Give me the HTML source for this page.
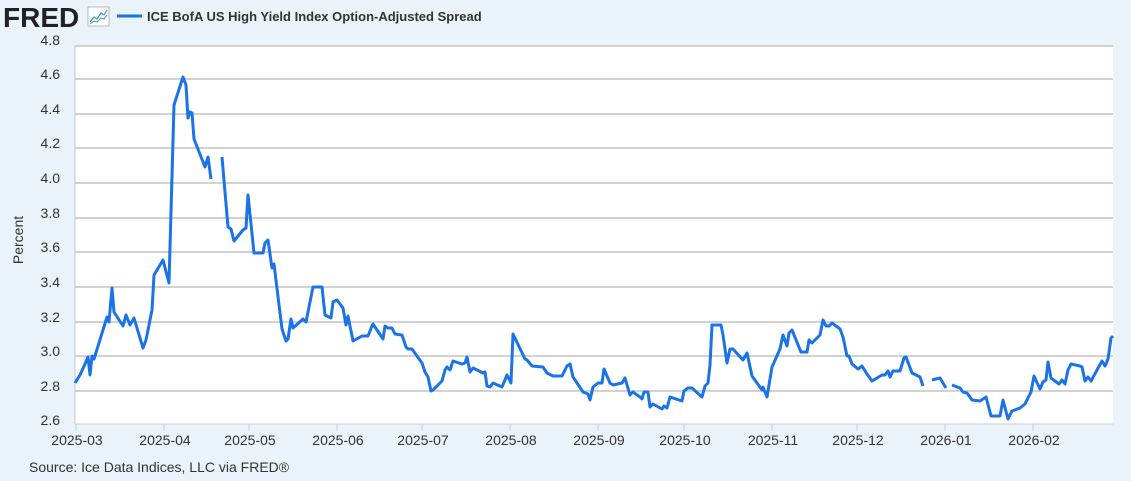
<!DOCTYPE html>
<html><head><meta charset="utf-8"><style>
body{margin:0;background:#eaf2fa;}
svg{display:block;font-family:"Liberation Sans",Arial,sans-serif;}
</style></head><body>
<svg width="1131" height="481" xmlns="http://www.w3.org/2000/svg">
<rect width="1131" height="481" fill="#eaf2fa"/>
<text x="3" y="27" font-size="28" font-weight="bold" fill="#222">FRED</text>
<rect x="88" y="7" width="21" height="19" fill="#fff" stroke="#aaa" stroke-width="0.8"/>
<polyline points="90,22 94,17 97,19 101,13 104,15 107,10" fill="none" stroke="#4a90d9" stroke-width="1.2"/>
<polyline points="90,24 94,21 97,22 101,18 104,19 107,15" fill="none" stroke="#5bb08a" stroke-width="1.2"/>
<line x1="117" y1="16" x2="142" y2="16" stroke="#1a73e8" stroke-width="3"/>
<text x="147" y="21" font-size="13" font-weight="bold" fill="#333">ICE BofA US High Yield Index Option-Adjusted Spread</text>
<rect x="75" y="46" width="1038" height="378" fill="#fff"/>
<g stroke="#c4c4c4" stroke-width="1.5">
<line x1="75" y1="79" x2="1113" y2="79"/><line x1="75" y1="114" x2="1113" y2="114"/>
<line x1="75" y1="148" x2="1113" y2="148"/><line x1="75" y1="183" x2="1113" y2="183"/>
<line x1="75" y1="218" x2="1113" y2="218"/><line x1="75" y1="252" x2="1113" y2="252"/>
<line x1="75" y1="287" x2="1113" y2="287"/><line x1="75" y1="322" x2="1113" y2="322"/>
<line x1="75" y1="356" x2="1113" y2="356"/><line x1="75" y1="391" x2="1113" y2="391"/>
<line x1="75" y1="46" x2="1113" y2="46"/>
</g>
<line x1="75" y1="46" x2="75" y2="424" stroke="#c4c4c4"/>
<line x1="75" y1="424" x2="1113" y2="424" stroke="#c4d0e0"/>
<g stroke="#c4d0e0">
<line x1="76" y1="424" x2="76" y2="431"/><line x1="164" y1="424" x2="164" y2="431"/><line x1="249" y1="424" x2="249" y2="431"/><line x1="337" y1="424" x2="337" y2="431"/><line x1="422" y1="424" x2="422" y2="431"/><line x1="510" y1="424" x2="510" y2="431"/><line x1="598" y1="424" x2="598" y2="431"/><line x1="684" y1="424" x2="684" y2="431"/><line x1="772" y1="424" x2="772" y2="431"/><line x1="857" y1="424" x2="857" y2="431"/><line x1="945" y1="424" x2="945" y2="431"/><line x1="1033" y1="424" x2="1033" y2="431"/>
</g>
<g font-size="14" fill="#333" text-anchor="end">
<text x="60" y="45">4.8</text><text x="60" y="79">4.6</text><text x="60" y="114">4.4</text><text x="60" y="148">4.2</text><text x="60" y="183">4.0</text><text x="60" y="218">3.8</text><text x="60" y="252">3.6</text><text x="60" y="287">3.4</text><text x="60" y="322">3.2</text><text x="60" y="356">3.0</text><text x="60" y="391">2.8</text><text x="60" y="425">2.6</text>
</g>
<g font-size="14" fill="#333" text-anchor="middle">
<text x="77" y="445">2025-03</text><text x="165" y="445">2025-04</text><text x="250" y="445">2025-05</text><text x="338" y="445">2025-06</text><text x="423" y="445">2025-07</text><text x="511" y="445">2025-08</text><text x="599" y="445">2025-09</text><text x="685" y="445">2025-10</text><text x="773" y="445">2025-11</text><text x="858" y="445">2025-12</text><text x="946" y="445">2026-01</text><text x="1034" y="445">2026-02</text>
</g>
<text transform="translate(23,240) rotate(-90)" font-size="14" fill="#333" text-anchor="middle">Percent</text>
<text x="29" y="472" font-size="14" fill="#333">Source: Ice Data Indices, LLC via FRED®</text>
<g fill="none" stroke="#1a73e8" stroke-width="3" stroke-linejoin="round">
<polyline points="75,383 80,375 85,364 88,357 90,375 92,356 94,359 107,317 109,322 112,288 114,312 123,326 126,315 130,325 134,318 143,348 146,340 152,310 154,275 163,260 169,283 174,105 183,77 186,85 188,118 190,112 192,113 194,139 205,167 208,157 211,179"/>
<polyline points="222,157 228,227 231,229 234,241 243,230 246,228 248,195 254,253 263,253 265,243 268,240 272,268 274,264 282,329 286,341 288,339 291,319 293,328 303,319 306,322 313,287 322,287 325,315 331,318 333,302 337,300 343,308 346,325 348,316 353,341 362,336 368,336 372,326 373,324 383,339 385,326 388,328 392,328 395,334 402,335 406,347 408,349 412,349 422,363 425,372 428,377 431,391 433,390 442,381 445,370 447,367 450,370 453,361 462,364 465,363 467,357 470,372 473,368 483,373 485,372 487,386 490,387 493,383 502,387 507,375 511,383 513,334 525,359 527,360 532,366 543,367 547,373 553,376 562,376 567,366 570,364 573,377 583,392 588,394 590,400 593,387 598,383 602,383 604,369 610,383 613,385 622,383 625,378 630,395 633,392 640,397 642,399 644,392 648,392 650,407 653,404 662,409 664,406 667,408 670,397 673,398 682,401 684,391 688,388 692,388 702,397 705,386 708,383 710,365 712,325 721,325 723,335 727,363 730,349 733,349 743,360 747,353 752,376 762,390 763,387 767,397 772,367 780,349 783,335 787,346 789,333 792,330 801,352 807,352 809,340 812,343 820,335 823,320 826,326 829,326 832,323 840,329 843,337 847,356 849,356 852,364 858,369 862,366 867,374 872,381 882,375 885,375 888,371 890,377 893,371 900,371 904,358 906,357 912,373 920,377 923,386"/>
<polyline points="932,380 940,378 946,388"/>
<polyline points="952,385 960,388 963,392 967,393 972,400 980,401 986,397 991,416 1000,416 1003,400 1008,419 1012,411 1020,408 1025,404 1031,392 1034,376 1040,389 1043,382 1046,380 1048,362 1051,378 1059,384 1062,380 1065,384 1068,370 1071,364 1080,366 1082,367 1085,381 1088,377 1091,381 1097,370 1102,361 1105,366 1108,359 1111,338 1113,336"/>
</g>
</svg>
</body></html>
